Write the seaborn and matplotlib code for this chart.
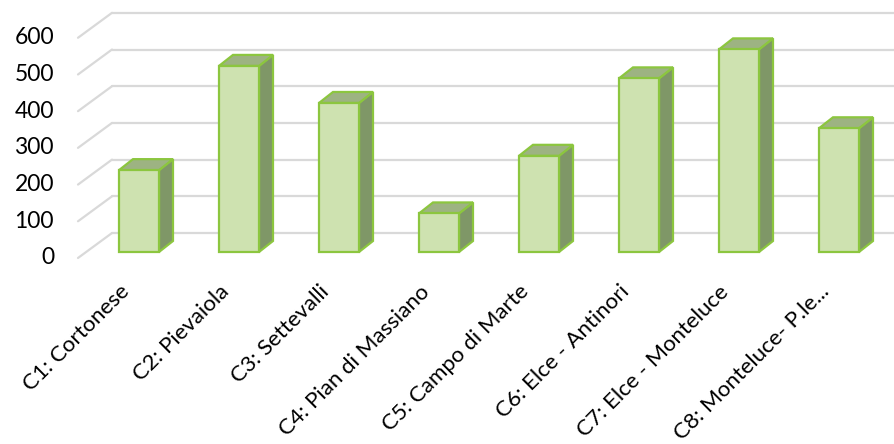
import seaborn as sns
import pandas as pd
import numpy as np
import matplotlib
matplotlib.use("Agg")
import matplotlib.pyplot as plt
from matplotlib.patches import Polygon

# dati
zone = ['C1: Cortonese', 'C2: Pievaiola', 'C3: Settevalli', 'C4: Pian di Massiano',
        'C5: Campo di Marte', 'C6: Elce - Antinori', 'C7: Elce - Monteluce',
        'C8: Monteluce- P.le...']
valori = [223, 507, 406, 105, 262, 473, 552, 337]
y_ticks = [0, 100, 200, 300, 400, 500, 600]

df = pd.DataFrame({'Zona': zone, 'Valore': valori})

sns.set_style("white")
plt.rcParams['font.family'] = ['Lato', 'DejaVu Sans']

fig = plt.figure(figsize=(8.94, 4.44), dpi=100)
ax = fig.add_axes([0, 0, 1, 1])

# barre frontali
sns.barplot(ax=ax, x='Zona', y='Valore', data=df, width=0.4,
            color='#d0eaa8', edgecolor='#8cc63f', linewidth=1.6, zorder=3)

# finto 3D: profondita' in unita' dati
DX, DV = 0.34, 68.0
front_d, wall_d, bar_d = -0.24, 0.76, 0.42
left_front = -0.61

fdx, fdv = front_d * DX, front_d * DV
wdx, wdv = wall_d * DX, wall_d * DV
bdx, bdv = bar_d * DX * 0.98, bar_d * DV * 1.05

x_lo, x_hi = -1.39, 7.55
wall_left = left_front + (wall_d - front_d) * DX

grid_col = '#d9d9d9'
for v in y_ticks:
    # linee della parete di fondo
    ax.plot([wall_left, x_hi], [v + wdv, v + wdv], color=grid_col, lw=1.6, zorder=1)
    # linee diagonali della parete laterale
    ax.plot([left_front, wall_left], [v + fdv, v + wdv], color=grid_col, lw=1.6, zorder=1)
    ax.text(left_front - 0.24, v + fdv, str(v), ha='right', va='center',
            fontsize=16.5, color='black')

# facce laterali e superiori
for p in ax.patches:
    x0, w, h = p.get_x(), p.get_width(), p.get_height()
    side = Polygon([(x0 + w, 0), (x0 + w + bdx, bdv), (x0 + w + bdx, h + bdv), (x0 + w, h)],
                   closed=True, facecolor='#7f9767', edgecolor='#8cc63f', lw=1.6, zorder=2)
    top = Polygon([(x0, h), (x0 + bdx, h + bdv), (x0 + w + bdx, h + bdv), (x0 + w, h)],
                  closed=True, facecolor='#9db382', edgecolor='#8cc63f', lw=1.6, zorder=2)
    ax.add_patch(side)
    ax.add_patch(top)

# etichette categorie
ax.set_xticks([])
ax.set_yticks([])
for i, z in enumerate(zone):
    ax.text(i - 0.13, -100, z, rotation=45, rotation_mode='anchor', ha='right', va='center',
            fontsize=16, color='black')

ax.set_xlim(x_lo, x_hi)
ax.set_ylim(-523.2, 686.6)
ax.set_xlabel('')
ax.set_ylabel('')
sns.despine(ax=ax, left=True, bottom=True)

fig.savefig('out.png', dpi=100)
